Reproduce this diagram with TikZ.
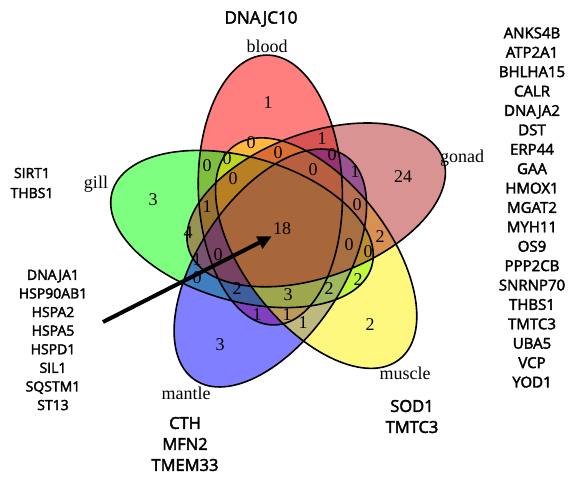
\documentclass[tikz,border=0pt]{standalone}
\usepackage{fontspec}
\setmainfont{Liberation Serif}
\newfontfamily\genefont{Open Sans}[FakeBold=2.5]
\usetikzlibrary{arrows.meta}
\definecolor{gonadcol}{RGB}{180,40,40}
\begin{document}
\begin{tikzpicture}[x=1pt, y=1pt,
    setname/.style={font=\fontsize{18}{20}\selectfont, inner sep=0pt},
    num/.style={font=\fontsize{18}{20}\selectfont, inner sep=1pt},
    genes/.style 2 args={align=center, inner sep=0pt, font=\genefont\fontsize{#1}{#2}\selectfont},
    petal/.style={fill opacity=0.5}]
    \useasboundingbox (0,0) rectangle (584,-477);
    % five ellipses turned round the middle
    \begin{scope}[shift={(283,-229)}]
        \foreach \k/\col in {0/red, 4/green, 3/blue, 2/yellow, 1/gonadcol} {
            \fill[\col, petal, rotate=-72*\k, shift={(108:41)}, rotate=2] (0,0) ellipse [x radius=72pt, y radius=135pt];
        }
        \foreach \k in {0,...,4} {
            \draw[line width=1.6pt, rotate=-72*\k, shift={(108:41)}, rotate=2] (0,0) ellipse [x radius=72pt, y radius=135pt];
        }
    \end{scope}
    \foreach \x/\y/\n [count=\i] in {
        268/103/1, 251/143/0, 322/139/1, 207/166/0, 227/159/0, 278/153/0,
        332/155/0, 355/172/1, 403/177/24, 233/179/0, 313/170/0, 207/207/1,
        357/205/0, 153/200/3, 188/233/4, 380/237/2, 349/245/0, 368/252/0,
        197/260/1, 218/255/0, 197/278/0, 237/289/2, 288/295/3, 329/289/2,
        358/280/2, 257/315/1, 287/315/1, 303/323/1, 220/345/3, 370/325/2
    } {
        \node[num] (r\i) at (\x,-\y) {\n};
    }
    \node[num] (n18) at (282,-229) {18};
    % set names and their genes
    \node[setname] (blood) at (267,-46) {blood};
    \node[setname] (gonad) at (462,-158) {gonad};
    \node[setname] (muscle) at (405,-373) {muscle};
    \node[setname] (mantle) at (186,-393) {mantle};
    \node[setname] (gill) at (96,-184) {gill};
    \node[genes={17}{20}] (bloodg) at (261,-19) {DNAJC10};
    \node[genes={14}{20}] (gillg) at (32,-183) {SIRT1\\THBS1};
    \node[genes={16.5}{21}] (mantleg) at (185,-444) {CTH\\MFN2\\TMEM33};
    \node[genes={16.5}{21}] (muscleg) at (412,-416.5) {SOD1\\TMTC3};
    \node[genes={15}{19.4}] (gonadg) at (532,-207.5) {ANKS4B\\ATP2A1\\BHLHA15\\CALR\\DNAJA2\\DST\\ERP44\\GAA\\HMOX1\\MGAT2\\MYH11\\OS9\\PPP2CB\\SNRNP70\\THBS1\\TMTC3\\UBA5\\VCP\\YOD1};
    \node[genes={14}{18.6}] (allg) at (53,-340) {DNAJA1\\HSP90AB1\\HSPA2\\HSPA5\\HSPD1\\SIL1\\SQSTM1\\ST13};
    \coordinate (hsp) at (103,-322);
    \draw[line width=4pt, -{Triangle[length=14pt, width=13pt]}] (hsp) -- (n18.south west);
\end{tikzpicture}
\end{document}
